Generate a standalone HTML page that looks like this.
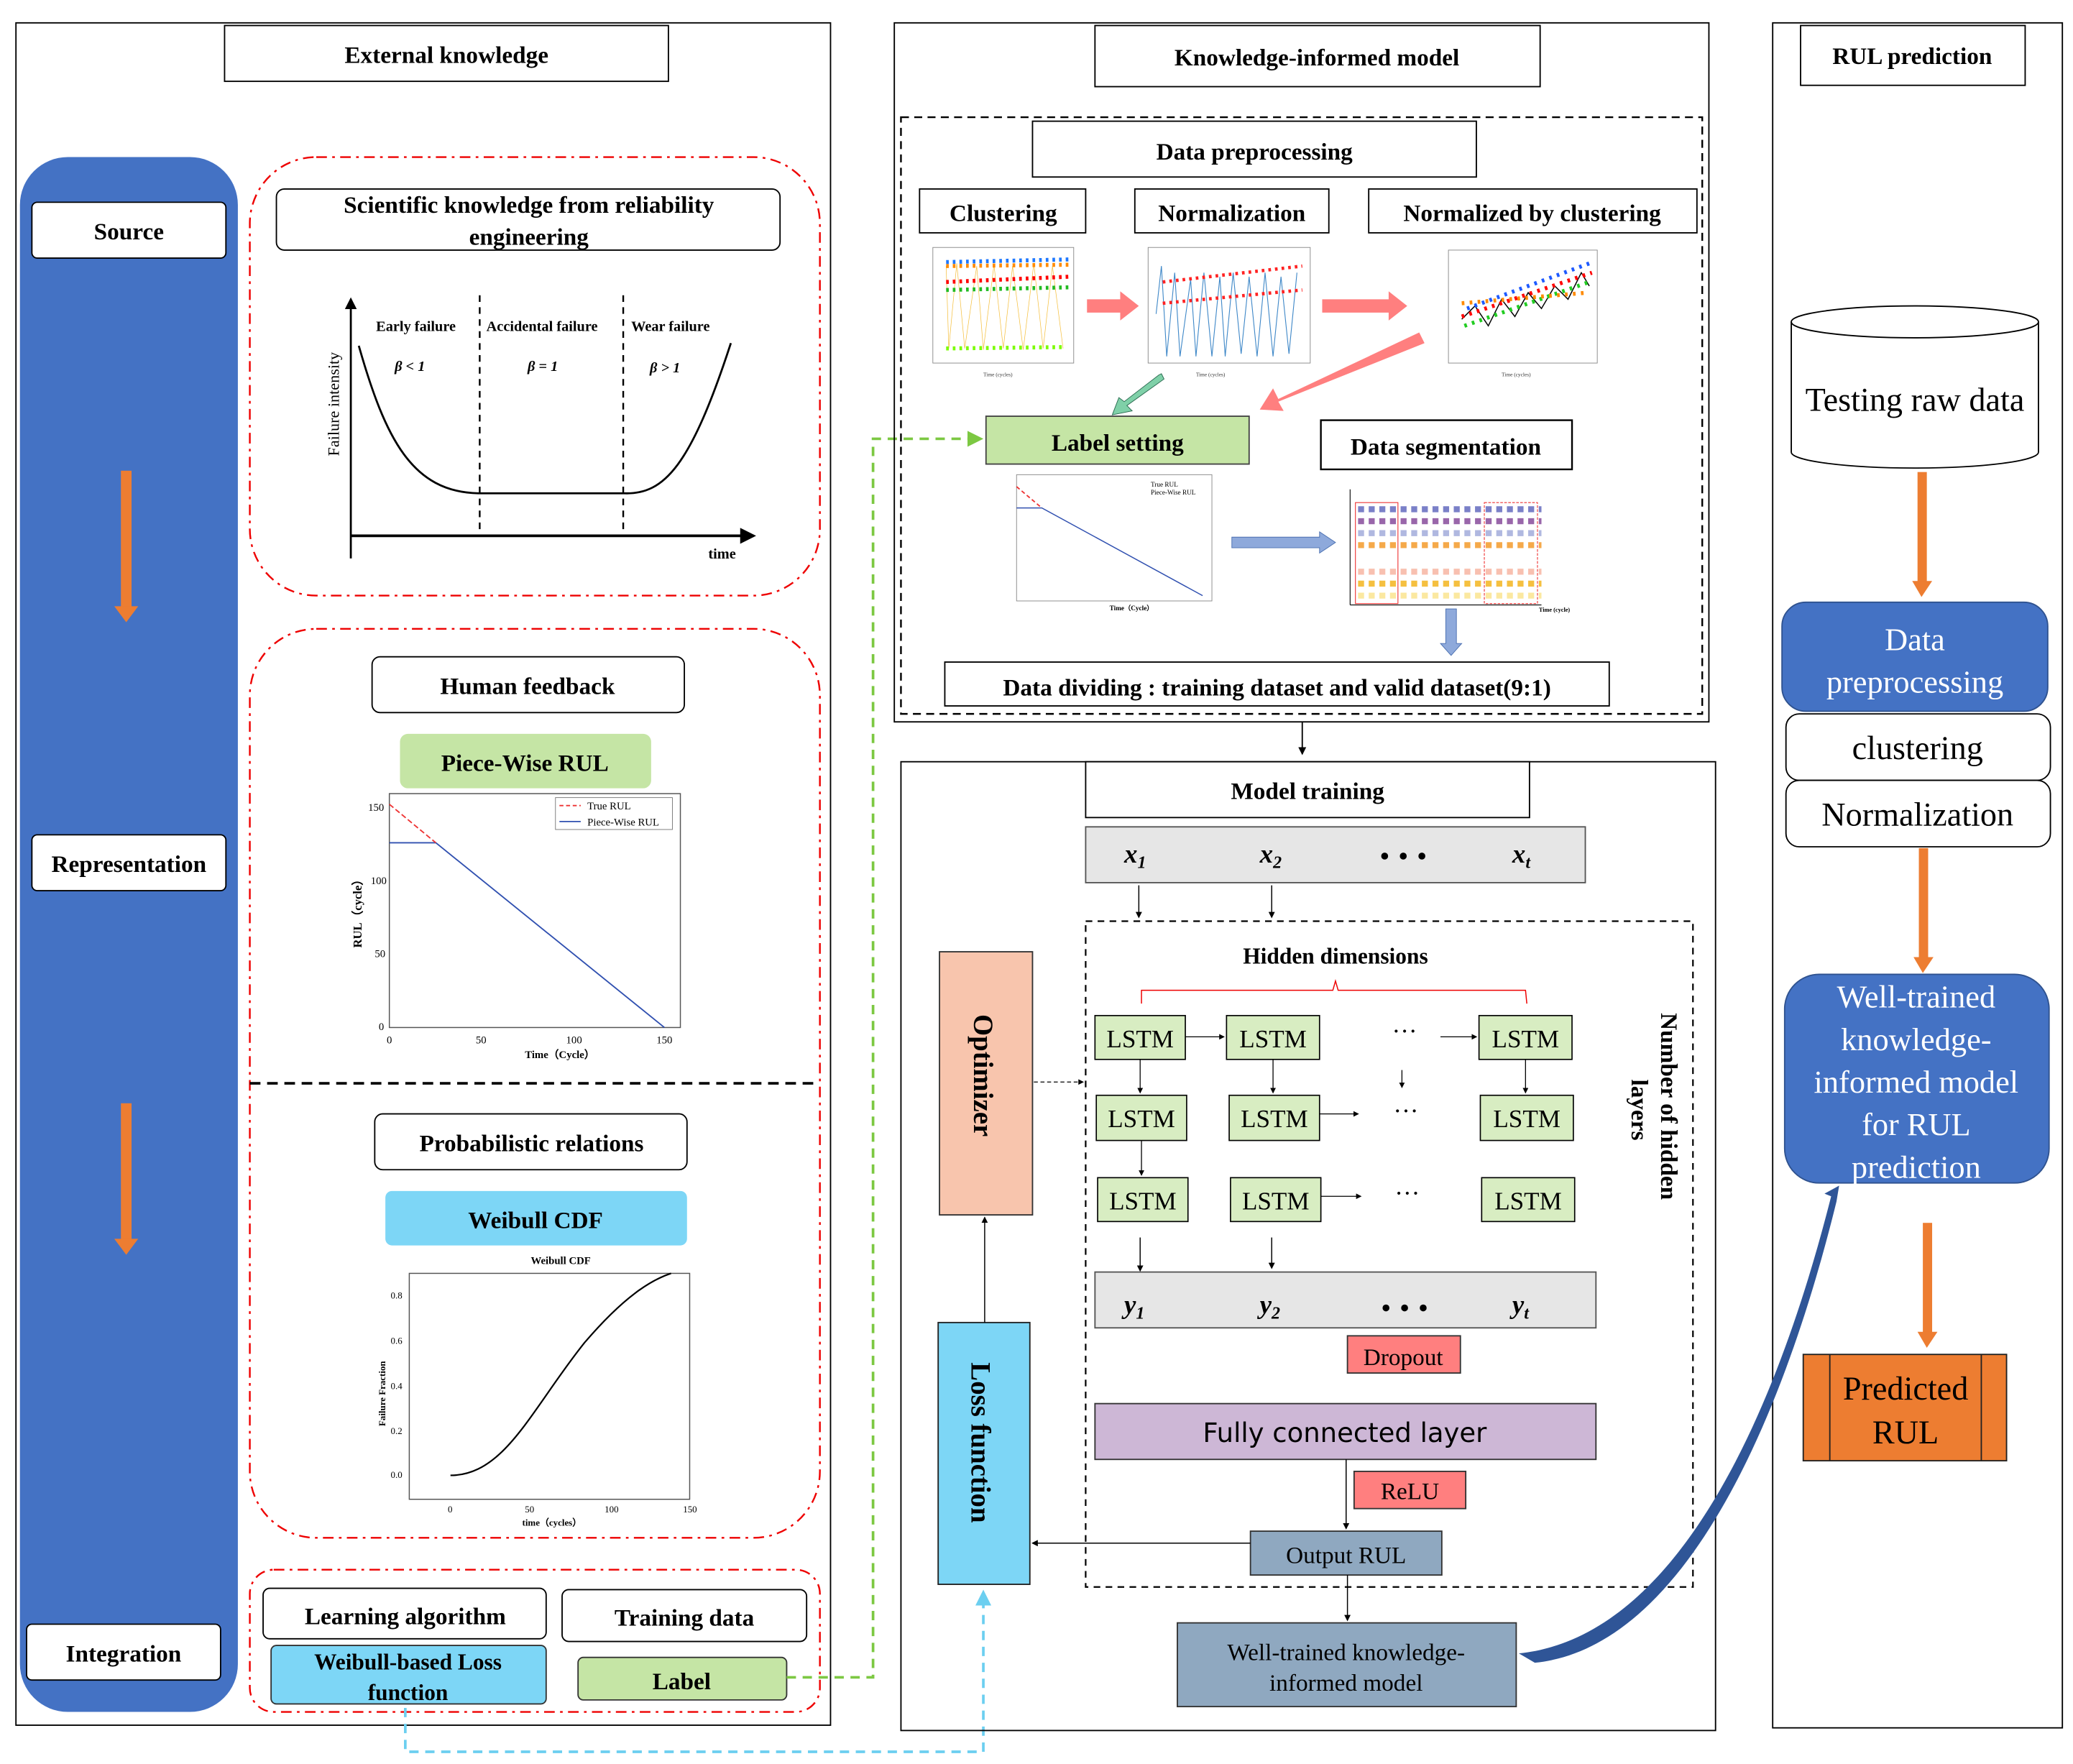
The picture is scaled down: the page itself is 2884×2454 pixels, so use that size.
<!DOCTYPE html>
<html><head><meta charset="utf-8"><style>
html,body{margin:0;padding:0;background:#fff}
svg{display:block}
text{font-family:"Liberation Serif",serif}
.b{font-weight:bold}
</style></head><body>
<svg width="2884" height="2454" viewBox="0 0 1560 1327" xmlns="http://www.w3.org/2000/svg">
<defs>
<marker id="ah" markerWidth="6" markerHeight="6" refX="5" refY="3" orient="auto"><path d="M0,0 L6,3 L0,6z" fill="#000"/></marker>
<marker id="ahg" markerWidth="6" markerHeight="6" refX="5" refY="3" orient="auto"><path d="M0,0 L6,3 L0,6z" fill="#7CC842"/></marker>
<marker id="ahc" markerWidth="6" markerHeight="6" refX="5" refY="3" orient="auto"><path d="M0,0 L6,3 L0,6z" fill="#6CCFF0"/></marker>
</defs>
<rect width="1560" height="1327" fill="#fff"/>
<!-- LEFT PANEL -->
<rect x="12" y="17" width="613" height="1281" fill="none" stroke="#000" stroke-width="1"/>
<rect x="169" y="19" width="334" height="42" fill="#fff" stroke="#000"/>
<text x="336" y="47" font-size="18" class="b" text-anchor="middle">External knowledge</text>
<rect x="15" y="118" width="164" height="1170" rx="36" fill="#4472C4"/>
<rect x="24" y="152" width="146" height="42" rx="4" fill="#fff" stroke="#000"/>
<text x="97" y="180" font-size="18" class="b" text-anchor="middle">Source</text>
<rect x="24" y="628" width="146" height="42" rx="4" fill="#fff" stroke="#000"/>
<text x="97" y="656" font-size="18" class="b" text-anchor="middle">Representation</text>
<rect x="20" y="1222" width="146" height="42" rx="4" fill="#fff" stroke="#000"/>
<text x="93" y="1250" font-size="18" class="b" text-anchor="middle">Integration</text>
<g fill="#ED7D31"><rect x="91" y="354" width="8" height="104"/><path d="M86,456 L104,456 L95,468z"/>
<rect x="91" y="830" width="8" height="104"/><path d="M86,932 L104,932 L95,944z"/></g>

<g fill="none" stroke="#E00" stroke-width="1.3" stroke-dasharray="8,4,2,4">
<rect x="188" y="118" width="429" height="330" rx="50"/>
<rect x="188" y="473" width="429" height="684" rx="50"/>
<rect x="188" y="1181" width="429" height="107" rx="18"/>
</g>
<line x1="188" y1="815" x2="617" y2="815" stroke="#000" stroke-width="2" stroke-dasharray="8,5"/>
<rect x="208" y="142" width="379" height="46" rx="6" fill="#fff" stroke="#000"/>
<text x="398" y="160" font-size="18" class="b" text-anchor="middle">Scientific knowledge from reliability</text>
<text x="398" y="184" font-size="18" class="b" text-anchor="middle">engineering</text>
<!-- bathtub -->
<line x1="264" y1="420" x2="264" y2="225" stroke="#000" stroke-width="1.5" marker-end="url(#ah)"/>
<line x1="264" y1="403" x2="567" y2="403" stroke="#000" stroke-width="2" marker-end="url(#ah)"/>
<g stroke="#000" stroke-dasharray="5,4" stroke-width="1.3"><line x1="361" y1="222" x2="361" y2="403"/><line x1="469" y1="222" x2="469" y2="403"/></g>
<path d="M270,260 C290,330 310,370 360,371 L470,371 C500,372 520,350 550,258" fill="none" stroke="#000" stroke-width="1.5"/>
<g font-size="11" class="b"><text x="283" y="249">Early failure</text><text x="366" y="249">Accidental failure</text><text x="475" y="249">Wear failure</text>
<text x="297" y="279" font-style="italic">β &lt; 1</text><text x="397" y="279" font-style="italic">β = 1</text><text x="489" y="280" font-style="italic">β &gt; 1</text>
<text x="533" y="420">time</text></g>
<text transform="translate(255,343) rotate(-90)" font-size="12">Failure intensity</text>

<rect x="280" y="494" width="235" height="42" rx="6" fill="#fff" stroke="#000"/>
<text x="397" y="522" font-size="18" class="b" text-anchor="middle">Human feedback</text>
<rect x="301" y="552" width="189" height="41" rx="6" fill="#C5E5A5"/>
<text x="395" y="580" font-size="18" class="b" text-anchor="middle">Piece-Wise RUL</text>
<rect x="293" y="597" width="219" height="176" fill="none" stroke="#555" stroke-width="0.8"/>
<path d="M293,634 L328,634 L500,773" fill="none" stroke="#3050B0"/>
<path d="M293,605 L328,634" stroke="#E33" stroke-dasharray="4,2"/>
<rect x="418" y="600" width="88" height="24" fill="#fff" stroke="#777" stroke-width="0.5"/>
<g font-size="8"><line x1="421" y1="606" x2="437" y2="606" stroke="#E33" stroke-dasharray="3,2"/><text x="442" y="609">True RUL</text>
<line x1="421" y1="618" x2="437" y2="618" stroke="#3050B0"/><text x="442" y="621">Piece-Wise RUL</text>
<text x="277" y="610">150</text><text x="279" y="665">100</text><text x="282" y="720">50</text><text x="285" y="775">0</text>
<text x="291" y="785">0</text><text x="358" y="785">50</text><text x="426" y="785">100</text><text x="494" y="785">150</text>
<text x="395" y="796" class="b">Time（Cycle）</text></g>
<text transform="translate(272,713) rotate(-90)" font-size="9" class="b">RUL（cycle）</text>

<rect x="282" y="838" width="235" height="42" rx="6" fill="#fff" stroke="#000"/>
<text x="400" y="866" font-size="18" class="b" text-anchor="middle">Probabilistic relations</text>
<rect x="290" y="896" width="227" height="41" rx="5" fill="#7DD6F6"/>
<text x="403" y="924" font-size="18" class="b" text-anchor="middle">Weibull CDF</text>
<text x="422" y="951" font-size="8" class="b" text-anchor="middle">Weibull CDF</text>
<rect x="308" y="958" width="211" height="170" fill="none" stroke="#555" stroke-width="0.8"/>
<path d="M339,1110 C380,1110 400,1060 440,1010 C470,975 490,963 505,958" fill="none" stroke="#000" stroke-width="1.2"/>
<g font-size="7"><text x="294" y="977">0.8</text><text x="294" y="1011">0.6</text><text x="294" y="1045">0.4</text><text x="294" y="1079">0.2</text><text x="294" y="1112">0.0</text>
<text x="337" y="1138">0</text><text x="395" y="1138">50</text><text x="455" y="1138">100</text><text x="514" y="1138">150</text>
<text x="393" y="1148" class="b">time（cycles）</text></g>
<text transform="translate(290,1073) rotate(-90)" font-size="7" class="b">Failure Fraction</text>

<rect x="198" y="1195" width="213" height="38" rx="5" fill="#fff" stroke="#000"/>
<text x="305" y="1222" font-size="18" class="b" text-anchor="middle">Learning algorithm</text>
<rect x="423" y="1196" width="184" height="39" rx="5" fill="#fff" stroke="#000"/>
<text x="515" y="1223" font-size="18" class="b" text-anchor="middle">Training data</text>
<rect x="204" y="1238" width="207" height="44" rx="4" fill="#7DD6F6" stroke="#333"/>
<text x="307" y="1256" font-size="17" class="b" text-anchor="middle">Weibull-based Loss</text>
<text x="307" y="1279" font-size="17" class="b" text-anchor="middle">function</text>
<rect x="435" y="1247" width="157" height="32" rx="4" fill="#C5E5A5" stroke="#333"/>
<text x="513" y="1271" font-size="18" class="b" text-anchor="middle">Label</text>

<!-- dashed connectors -->
<path d="M592,1262 L657,1262 L657,330 L738,330" fill="none" stroke="#7CC842" stroke-width="2" stroke-dasharray="7,5" marker-end="url(#ahg)"/>
<path d="M305,1285 L305,1318 L740,1318 L740,1198" fill="none" stroke="#6CCFF0" stroke-width="2" stroke-dasharray="7,5" marker-end="url(#ahc)"/>

<!-- MIDDLE TOP -->
<rect x="673" y="17" width="613" height="526" fill="none" stroke="#000"/>
<rect x="824" y="19" width="335" height="46" fill="#fff" stroke="#000"/>
<text x="991" y="49" font-size="18" class="b" text-anchor="middle">Knowledge-informed model</text>
<rect x="678" y="88" width="603" height="449" fill="none" stroke="#000" stroke-width="1.3" stroke-dasharray="6,4"/>
<rect x="777" y="91" width="334" height="42" fill="#fff" stroke="#000"/>
<text x="944" y="120" font-size="18" class="b" text-anchor="middle">Data preprocessing</text>
<rect x="692" y="142" width="125" height="33" fill="#fff" stroke="#000"/>
<text x="755" y="166" font-size="18" class="b" text-anchor="middle">Clustering</text>
<rect x="854" y="142" width="146" height="33" fill="#fff" stroke="#000"/>
<text x="927" y="166" font-size="18" class="b" text-anchor="middle">Normalization</text>
<rect x="1030" y="142" width="247" height="33" fill="#fff" stroke="#000"/>
<text x="1153" y="166" font-size="18" class="b" text-anchor="middle">Normalized by clustering</text>
<!-- mini plots -->
<rect x="702" y="186" width="106" height="87" fill="#fff" stroke="#888" stroke-width="0.5"/>
<path d="M712,200 L714,262 L720,198 L726,262 L735,200 L740,263 L748,199 L755,262 L762,200 L770,263 L778,198 L785,262 L792,200 L800,262" fill="none" stroke="#F5C040" stroke-width="0.4"/>
<g stroke-width="3" stroke-dasharray="2,3">
<line x1="712" y1="197" x2="805" y2="195" stroke="#1E78FF"/><line x1="712" y1="200" x2="805" y2="199" stroke="#FF8A00"/>
<line x1="712" y1="212" x2="805" y2="208" stroke="#F00"/><line x1="712" y1="218" x2="805" y2="216" stroke="#22BB22"/>
<line x1="712" y1="262" x2="800" y2="261" stroke="#7CFC00"/></g>
<g font-size="4" fill="#333"><text x="740" y="283">Time (cycles)</text><text x="900" y="283">Time (cycles)</text><text x="1130" y="283">Time (cycles)</text></g>
<rect x="864" y="186" width="122" height="87" fill="#fff" stroke="#888" stroke-width="0.5"/>
<path d="M870,236 L874,200 L878,268 L884,205 L888,268 L896,210 L900,268 L906,205 L912,268 L918,208 L922,268 L928,205 L934,266 L940,208 L946,268 L952,205 L958,268 L964,208 L970,266 L976,205" fill="none" stroke="#3F88C8" stroke-width="0.6"/>
<g stroke="#F22" stroke-width="2.5" stroke-dasharray="2,3"><line x1="875" y1="212" x2="980" y2="200"/><line x1="875" y1="228" x2="980" y2="218"/></g>
<rect x="1090" y="188" width="112" height="85" fill="#fff" stroke="#888" stroke-width="0.5"/>
<path d="M1100,240 L1110,230 L1120,245 L1130,225 L1140,238 L1150,220 L1160,232 L1170,215 L1180,225 L1190,205 L1196,215" fill="none" stroke="#000" stroke-width="0.8"/>
<g stroke-width="3" stroke-dasharray="2,4"><line x1="1100" y1="238" x2="1198" y2="205" stroke="#F00"/><line x1="1102" y1="245" x2="1196" y2="212" stroke="#22CC22"/><line x1="1104" y1="232" x2="1196" y2="198" stroke="#1E5AFF"/><line x1="1100" y1="228" x2="1195" y2="220" stroke="#FF8A00"/></g>
<g fill="#FF7F7F"><path d="M818,225 L843,225 L843,219 L857,230 L843,241 L843,235 L818,235z"/><path d="M995,225 L1045,225 L1045,219 L1059,230 L1045,241 L1045,235 L995,235z"/>
<path d="M1072,258 L1068,250 L962,300 L958,292 L948,308 L966,309 L962,302 z"/></g>
<path d="M874,281 L876,285 L848,305 L852,309 L837,312 L842,299 L846,302 L872,282z" fill="#7FD0A8" stroke="#2A6A50" stroke-width="0.5"/>
<rect x="742" y="313" width="198" height="36" fill="#C5E5A5" stroke="#444"/>
<text x="841" y="339" font-size="18" class="b" text-anchor="middle">Label setting</text>
<rect x="994" y="316" width="189" height="37" fill="#fff" stroke="#000" stroke-width="1.3"/>
<text x="1088" y="342" font-size="18" class="b" text-anchor="middle">Data segmentation</text>
<rect x="765" y="357" width="147" height="95" fill="#fff" stroke="#888" stroke-width="0.5"/>
<path d="M765,366 L784,382" stroke="#E33" stroke-dasharray="3,2"/><path d="M765,382 L784,382 L905,448" fill="none" stroke="#3050B0" stroke-width="0.8"/>
<text x="866" y="366" font-size="5">True RUL</text><text x="866" y="372" font-size="5">Piece-Wise RUL</text>
<text x="835" y="459" font-size="5" class="b">Time（Cycle）</text>
<path d="M927,404 L993,404 L993,400 L1005,408 L993,416 L993,412 L927,412z" fill="#8EA9DB" stroke="#4A6FB0" stroke-width="0.5"/>
<line x1="1016" y1="368" x2="1016" y2="455" stroke="#000" stroke-width="0.6"/><line x1="1016" y1="455" x2="1160" y2="455" stroke="#000" stroke-width="0.6"/>
<g stroke-width="4.5" stroke-dasharray="4.5,3.5">
<line x1="1022" y1="383" x2="1160" y2="383" stroke="#7A80C8"/><line x1="1022" y1="392" x2="1160" y2="392" stroke="#9966AA"/>
<line x1="1022" y1="401" x2="1160" y2="401" stroke="#B0B8E0"/><line x1="1022" y1="410" x2="1160" y2="410" stroke="#F5A94A"/>
<line x1="1022" y1="430" x2="1160" y2="430" stroke="#F8C0B0"/><line x1="1022" y1="439" x2="1160" y2="439" stroke="#F5C040"/>
<line x1="1022" y1="448" x2="1160" y2="448" stroke="#FBE8A0"/></g>
<g fill="none" stroke="#E33" stroke-width="0.6"><rect x="1020" y="378" width="32" height="76"/><rect x="1117" y="378" width="40" height="76" stroke-dasharray="2,1"/></g>
<text x="1158" y="460" font-size="4.5" class="b">Time (cycle)</text>
<path d="M1088,458 L1096,458 L1096,484 L1100,484 L1092,493 L1084,484 L1088,484z" fill="#8EA9DB" stroke="#4A6FB0" stroke-width="0.5"/>
<rect x="711" y="498" width="500" height="33" fill="#fff" stroke="#000"/>
<text x="961" y="523" font-size="18" class="b" text-anchor="middle">Data dividing : training dataset and valid dataset(9:1)</text>
<line x1="980" y1="543" x2="980" y2="567" stroke="#000" marker-end="url(#ah)"/>

<!-- MODEL TRAINING -->
<rect x="678" y="573" width="613" height="729" fill="none" stroke="#000"/>
<rect x="817" y="573" width="334" height="42" fill="#fff" stroke="#000"/>
<text x="984" y="601" font-size="18" class="b" text-anchor="middle">Model training</text>
<rect x="817" y="622" width="376" height="42" fill="#E6E6E6" stroke="#555"/>
<rect x="824" y="957" width="377" height="42" fill="#E6E6E6" stroke="#555"/>
<g font-size="20" class="b" font-style="italic"><text x="846" y="649">x<tspan font-size="13" dy="4">1</tspan></text><text x="948" y="649">x<tspan font-size="13" dy="4">2</tspan></text><text x="1138" y="649">x<tspan font-size="13" dy="4">t</tspan></text>
<text x="846" y="988">y<tspan font-size="13" dy="4">1</tspan></text><text x="948" y="988">y<tspan font-size="13" dy="4">2</tspan></text><text x="1138" y="988">y<tspan font-size="13" dy="4">t</tspan></text></g>
<g fill="#000"><circle cx="1042" cy="644" r="2.6"/><circle cx="1056" cy="644" r="2.6"/><circle cx="1070" cy="644" r="2.6"/>
<circle cx="1043" cy="984" r="2.6"/><circle cx="1057" cy="984" r="2.6"/><circle cx="1071" cy="984" r="2.6"/></g>
<g stroke="#000" stroke-width="0.8" marker-end="url(#ah)"><line x1="857" y1="666" x2="857" y2="690"/><line x1="957" y1="666" x2="957" y2="690"/>
<line x1="858" y1="931" x2="858" y2="956"/><line x1="957" y1="931" x2="957" y2="954"/></g>
<rect x="817" y="693" width="457" height="501" fill="none" stroke="#000" stroke-width="1.2" stroke-dasharray="5,4"/>
<text x="1005" y="725" font-size="17" class="b" text-anchor="middle">Hidden dimensions</text>
<path d="M859,755 L859,745 L1003,745 L1005,738 L1007,745 L1148,745 L1149,755" fill="none" stroke="#E00" stroke-width="0.8"/>
<g fill="#D8EDC2" stroke="#000" stroke-width="0.9">
<rect x="824" y="764" width="68" height="33"/><rect x="923" y="764" width="70" height="33"/><rect x="1113" y="764" width="70" height="33"/>
<rect x="825" y="824" width="68" height="34"/><rect x="925" y="824" width="68" height="34"/><rect x="1114" y="824" width="70" height="34"/>
<rect x="826" y="886" width="68" height="33"/><rect x="926" y="886" width="68" height="33"/><rect x="1115" y="886" width="70" height="33"/></g>
<g font-size="19" text-anchor="middle"><text x="858" y="788">LSTM</text><text x="958" y="788">LSTM</text><text x="1148" y="788">LSTM</text>
<text x="859" y="848">LSTM</text><text x="959" y="848">LSTM</text><text x="1149" y="848">LSTM</text>
<text x="860" y="910">LSTM</text><text x="960" y="910">LSTM</text><text x="1150" y="910">LSTM</text>
<text x="1057" y="782">···</text><text x="1058" y="842">···</text><text x="1059" y="904">···</text></g>
<g stroke="#000" stroke-width="0.7" marker-end="url(#ah)">
<line x1="892" y1="780" x2="921" y2="780"/><line x1="1084" y1="780" x2="1111" y2="780"/><line x1="993" y1="838" x2="1022" y2="838"/><line x1="994" y1="900" x2="1024" y2="900"/>
<line x1="858" y1="797" x2="858" y2="822"/><line x1="958" y1="797" x2="958" y2="822"/><line x1="1148" y1="797" x2="1148" y2="822"/>
<line x1="859" y1="858" x2="859" y2="884"/><line x1="1055" y1="805" x2="1055" y2="818"/>
<line x1="778" y1="814" x2="815" y2="814" stroke-dasharray="3,2"/></g>
<text transform="translate(1250,762) rotate(90)" font-size="18" class="b">Number of hidden</text>
<text transform="translate(1228,812) rotate(90)" font-size="18" class="b">layers</text>
<rect x="707" y="716" width="70" height="198" fill="#F8C5AD" stroke="#333"/>
<text transform="translate(733,763) rotate(90)" font-size="21" class="b">Optimizer</text>
<rect x="706" y="995" width="69" height="197" fill="#7DD6F6" stroke="#222"/>
<text transform="translate(731,1025) rotate(90)" font-size="21" class="b">Loss function</text>
<line x1="741" y1="995" x2="741" y2="916" stroke="#000" stroke-width="0.8" marker-end="url(#ah)"/>
<rect x="1014" y="1005" width="85" height="28" fill="#FF7F7F" stroke="#333"/>
<text x="1056" y="1027" font-size="18" text-anchor="middle">Dropout</text>
<rect x="824" y="1056" width="377" height="42" fill="#CDB7D6" stroke="#333"/>
<text x="1012" y="1085" font-size="20" text-anchor="middle" style="font-family:'DejaVu Sans',sans-serif">Fully connected layer</text>
<rect x="1019" y="1107" width="84" height="28" fill="#FF7F7F" stroke="#333"/>
<text x="1061" y="1128" font-size="18" text-anchor="middle">ReLU</text>
<line x1="1013" y1="1098" x2="1013" y2="1150" stroke="#000" stroke-width="0.8" marker-end="url(#ah)"/>
<rect x="941" y="1152" width="144" height="33" fill="#8FA8C0" stroke="#333"/>
<text x="1013" y="1176" font-size="18" text-anchor="middle">Output RUL</text>
<line x1="941" y1="1161" x2="777" y2="1161" stroke="#000" stroke-width="0.8" marker-end="url(#ah)"/>
<line x1="1014" y1="1185" x2="1014" y2="1219" stroke="#000" stroke-width="0.8" marker-end="url(#ah)"/>
<rect x="886" y="1221" width="255" height="63" fill="#8FA8C0" stroke="#333"/>
<text x="1013" y="1249" font-size="18" text-anchor="middle">Well-trained knowledge-</text>
<text x="1013" y="1272" font-size="18" text-anchor="middle">informed  model</text>

<!-- RIGHT PANEL -->
<rect x="1334" y="17" width="218" height="1283" fill="none" stroke="#000"/>
<rect x="1355" y="19" width="169" height="45" fill="#fff" stroke="#000"/>
<text x="1439" y="48" font-size="18" class="b" text-anchor="middle">RUL prediction</text>
<path d="M1348,242 L1348,340 A93,12 0 0 0 1534,340 L1534,242" fill="#fff" stroke="#000"/>
<ellipse cx="1441" cy="242" rx="93" ry="12" fill="#fff" stroke="#000"/>
<text x="1441" y="309" font-size="25" text-anchor="middle">Testing raw data</text>
<g fill="#ED7D31"><rect x="1443" y="355" width="7" height="84"/><path d="M1439,437 L1454,437 L1446,449z"/>
<rect x="1444" y="638" width="7" height="84"/><path d="M1440,720 L1455,720 L1447,732z"/>
<rect x="1447" y="920" width="7" height="84"/><path d="M1443,1002 L1458,1002 L1450,1014z"/></g>
<rect x="1341" y="453" width="200" height="82" rx="18" fill="#4472C4" stroke="#2F528F"/>
<text x="1441" y="489" font-size="24" fill="#fff" text-anchor="middle">Data</text>
<text x="1441" y="521" font-size="24" fill="#fff" text-anchor="middle">preprocessing</text>
<rect x="1344" y="537" width="199" height="50" rx="10" fill="#fff" stroke="#000"/>
<text x="1443" y="571" font-size="25" text-anchor="middle">clustering</text>
<rect x="1344" y="587" width="199" height="50" rx="10" fill="#fff" stroke="#000"/>
<text x="1443" y="621" font-size="25" text-anchor="middle">Normalization</text>
<rect x="1343" y="733" width="199" height="157" rx="26" fill="#4472C4" stroke="#2F528F"/>
<g font-size="24" fill="#fff" text-anchor="middle"><text x="1442" y="758">Well-trained</text><text x="1442" y="790">knowledge-</text><text x="1442" y="822">informed model</text><text x="1442" y="854">for RUL</text><text x="1442" y="886">prediction</text></g>
<rect x="1357" y="1019" width="153" height="80" fill="#ED7D31" stroke="#222"/>
<line x1="1377" y1="1019" x2="1377" y2="1099" stroke="#222"/><line x1="1491" y1="1019" x2="1491" y2="1099" stroke="#222"/>
<text x="1434" y="1053" font-size="25" text-anchor="middle">Predicted</text>
<text x="1434" y="1086" font-size="25" text-anchor="middle">RUL</text>
<!-- blue curve -->
<path d="M1143,1244 C1260,1232 1335,1070 1378,900 L1373,898 L1384,892 L1382,904 C1340,1075 1265,1240 1155,1251 z" fill="#2F5597"/>
</svg>
</body></html>
